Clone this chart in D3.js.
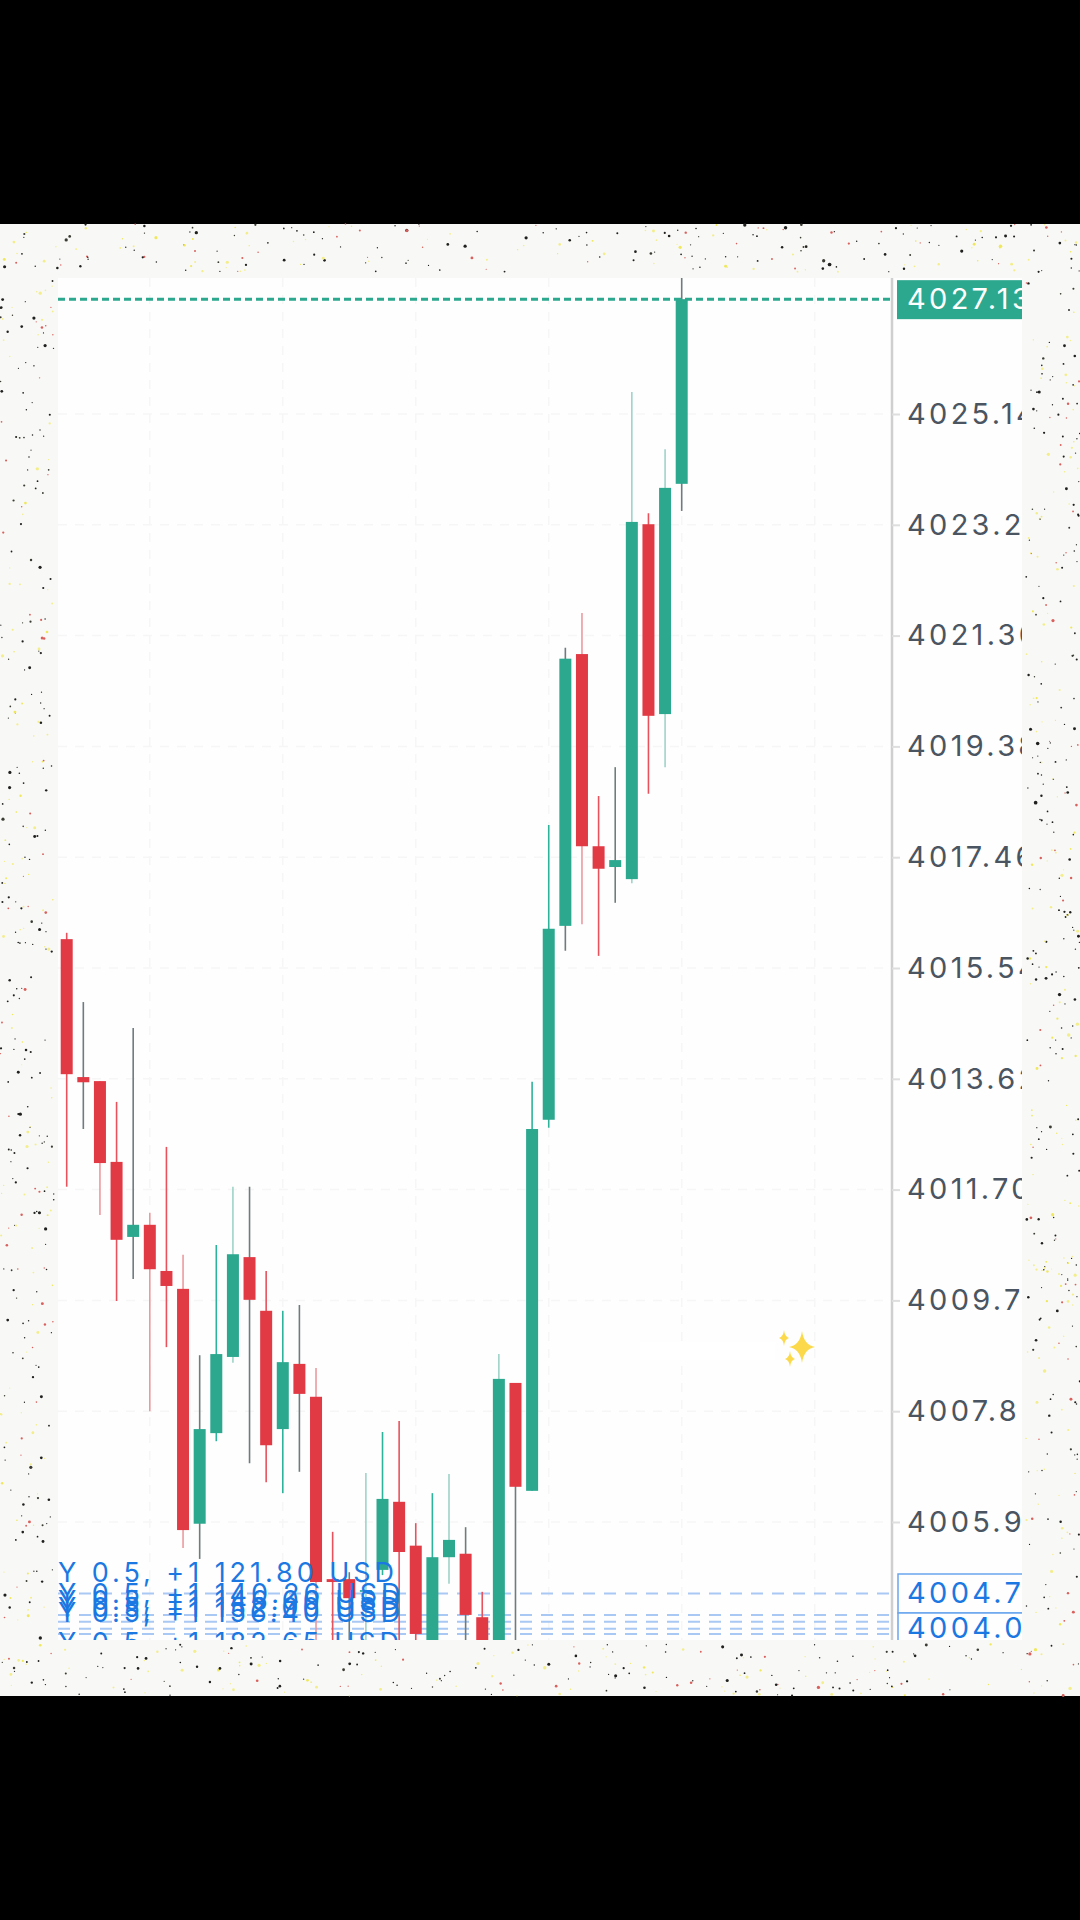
<!DOCTYPE html>
<html>
<head>
<meta charset="utf-8">
<script src="https://d3js.org/d3.v7.min.js"></script>
<style>
  html, body { margin: 0; padding: 0; background: #000; }
  svg { display: block; }
  .price { font-family: Inter, "Noto Sans", sans-serif; font-size: 29px; letter-spacing: 3.3px; }
  .order { font-family: Inter, "Noto Sans", sans-serif; font-size: 27px; letter-spacing: 3.95px; fill: #1b78e2; }
</style>
</head>
<body>
<div class="canvas"></div>
<script>
// candles, left to right
const open = [4016.04, 4013.65, 4013.58, 4012.18, 4010.88, 4011.09, 4010.29, 4009.98, 4005.91, 4007.48, 4008.80, 4010.53, 4009.60,
  4007.55, 4008.68, 4008.11, 4004.95, 4004.95, 4004.73, 4005.11, 4006.29, 4005.53, 4003.72, 4005.33, 4005.39, 4004.29, 4003.70,
  4008.35, 4006.48, 4012.91, 4016.27, 4020.98, 4017.65, 4017.29, 4017.08, 4023.23, 4019.94, 4023.93];
const close = [4013.70, 4013.56, 4012.16, 4010.83, 4011.09, 4010.32, 4010.03, 4005.80, 4007.55, 4008.85, 4010.58, 4009.79, 4007.27,
  4008.71, 4008.16, 4004.90, 4004.90, 4004.62, 4004.76, 4006.34, 4005.42, 4004.00, 4005.33, 4005.63, 4004.33, 4003.72, 4008.42,
  4006.55, 4012.75, 4016.22, 4020.90, 4017.65, 4017.26, 4017.41, 4023.27, 4019.91, 4023.86, 4027.13];
const high = [4016.15, 4014.95, 4013.58, 4013.22, 4014.50, 4011.30, 4012.44, 4010.57, 4008.83, 4010.74, 4011.75, 4011.75, 4010.29,
  4009.60, 4009.70, 4008.61, 4005.77, 4005.07, 4006.79, 4007.50, 4007.69, 4005.92, 4006.44, 4006.77, 4005.85, 4004.73, 4008.85,
  4008.35, 4013.57, 4018.02, 4021.09, 4021.69, 4018.52, 4019.02, 4025.52, 4023.42, 4024.53, 4027.50];
const low = [4011.75, 4012.75, 4011.26, 4009.77, 4010.15, 4007.86, 4008.97, 4005.49, 4005.30, 4007.34, 4008.70, 4006.96, 4006.63,
  4006.44, 4006.81, 4003.72, 4003.70, 4003.70, 4003.70, 4005.02, 4003.70, 4003.70, 4003.60, 4004.87, 4003.70, 4003.60, 4003.60,
  4003.70, 4006.48, 4012.77, 4015.84, 4016.30, 4015.75, 4016.67, 4017.01, 4018.56, 4019.02, 4023.46];
// the wicks came out in mixed tones in the video frame
const wickTone = ["r", "g", "l", "r", "g", "l", "r", "l", "g", "t", "m", "g", "r", "t", "g", "l", "r", "g", "m", "t", "r", "r", "t",
  "m", "g", "r", "m", "g", "t", "t", "g", "l", "r", "g", "m", "r", "m", "g"];

// price axis, labels as far as the frame lets them show
const tickValues = [4025.14, 4023.22, 4021.30, 4019.38, 4017.46, 4015.54, 4013.62, 4011.70, 4009.78, 4007.86, 4005.94];
const tickLabels = ["4025.14", "4023.22", "4021.30", "4019.38", "4017.46", "4015.54", "4013.62", "4011.70", "4009.7", "4007.8", "4005.9"];
const lastPrice = 4027.13;

// open orders
const orderPrices = [4004.70, 4004.33, 4004.21, 4004.09, 4004.00, 4003.48];
const orderTexts = ["Y 0.5, +1 121.80 USD", "Y 0.5, +1 140.26 USD", "Y 0.5, +1 146.00 USD", "Y 0.5, +1 152.00 USD", "Y 0.5, +1 156.40 USD", "Y 0.5, +1 182.65 USD"];
const orderBoxes = [4004.70, 4004.10];
const orderBoxLabels = ["4004.7", "4004.0"];

// vertical grid falls on every 8th candle
const gridCandles = [5, 13, 21, 29, 37, 45];

const dims = { width: 1080, height: 1920 };
const panel = { left: 58, right: 1022, top: 278, bottom: 1640 };
const stage = { top: 224, bottom: 1696 };
const axisX = 892;

const green = "#2ca88f";
const red = "#e13a45";
const blue = "#1b78e2";
const tones = { r: "#e8525c", l: "#eb9aa0", g: "#6f7b7c", t: "#2cb39a", m: "#9fd3c7" };

const x = d3.scaleLinear().domain([0, 37]).range([66.7, 681.7]);
const y = d3.scaleLinear().domain([4025.14, 4005.94]).range([414, 1522]);

const candles = open.map((o, i) => ({ i, o, c: close[i], h: high[i], l: low[i], tone: wickTone[i] }));

const svg = d3
  .select(".canvas")
  .append("svg")
  .attr("width", dims.width)
  .attr("height", dims.height);

svg.append("rect").attr("width", dims.width).attr("height", dims.height).attr("fill", "#000");

// speckled paper round the chart
svg
  .append("rect")
  .attr("y", stage.top)
  .attr("width", dims.width)
  .attr("height", stage.bottom - stage.top)
  .attr("fill", "#f8f8f6");

const rnd = d3.randomLcg(0.37);
const speckColors = ["#20201e", "#20201e", "#20201e", "#20201e", "#3b3a33", "#efe85c", "#f3ee8a", "#f3ee8a", "#d9605c"];
const specks = d3.range(7500).map(() => ({
  px: rnd() * dims.width,
  py: stage.top + rnd() * (stage.bottom - stage.top),
  r: 0.6 + rnd() * rnd() * 1.3,
  fill: speckColors[Math.floor(rnd() * speckColors.length)]
})).filter(d => d.px < panel.left - 4 || d.px > panel.right + 4 || d.py < panel.top - 6 || d.py > panel.bottom + 4);

svg
  .append("g")
  .selectAll("circle")
  .data(specks)
  .join("circle")
  .attr("cx", d => d.px)
  .attr("cy", d => d.py)
  .attr("r", d => d.r)
  .attr("fill", d => d.fill);

// white chart panel
svg
  .append("rect")
  .attr("x", panel.left)
  .attr("y", panel.top)
  .attr("width", panel.right - panel.left)
  .attr("height", panel.bottom - panel.top)
  .attr("fill", "#fefefe");

const defs = svg.append("defs");
defs
  .append("clipPath")
  .attr("id", "panel-clip")
  .append("rect")
  .attr("x", panel.left)
  .attr("y", panel.top)
  .attr("width", panel.right - panel.left)
  .attr("height", panel.bottom - panel.top);

const graph = svg.append("g").attr("clip-path", "url(#panel-clip)");

// grid
graph
  .append("g")
  .selectAll("line")
  .data(tickValues)
  .join("line")
  .attr("x1", panel.left)
  .attr("x2", axisX)
  .attr("y1", d => y(d))
  .attr("y2", d => y(d))
  .attr("stroke", "#f6f6f6")
  .attr("stroke-width", 1.5)
  .attr("stroke-dasharray", "9 8");

graph
  .append("g")
  .selectAll("line")
  .data(gridCandles)
  .join("line")
  .attr("x1", d => x(d))
  .attr("x2", d => x(d))
  .attr("y1", panel.top)
  .attr("y2", panel.bottom)
  .attr("stroke", "#f6f6f6")
  .attr("stroke-width", 1.5)
  .attr("stroke-dasharray", "9 8");

// faint white patch left beside the sparkle
graph.append("rect").attr("x", 640).attr("y", 1342).attr("width", 135).attr("height", 18).attr("fill", "#fff");

// order lines
graph
  .append("g")
  .selectAll("line")
  .data(orderPrices)
  .join("line")
  .attr("x1", panel.left)
  .attr("x2", axisX)
  .attr("y1", d => y(d))
  .attr("y2", d => y(d))
  .attr("stroke", "#a9c8f3")
  .attr("stroke-width", 2)
  .attr("stroke-dasharray", "12 9");

// last price line
graph
  .append("line")
  .attr("x1", panel.left)
  .attr("x2", axisX)
  .attr("y1", y(lastPrice))
  .attr("y2", y(lastPrice))
  .attr("stroke", green)
  .attr("stroke-width", 3)
  .attr("stroke-dasharray", "7 4");

// candles
const candle = graph.append("g").selectAll("g").data(candles).join("g");

candle
  .append("line")
  .attr("x1", d => x(d.i))
  .attr("x2", d => x(d.i))
  .attr("y1", d => y(d.h))
  .attr("y2", d => y(d.l))
  .attr("stroke", d => tones[d.tone])
  .attr("stroke-width", 1.6);

candle
  .append("rect")
  .attr("x", d => x(d.i) - 6)
  .attr("width", 12)
  .attr("y", d => y(Math.max(d.o, d.c)))
  .attr("height", d => Math.abs(y(d.o) - y(d.c)))
  .attr("fill", d => (d.c >= d.o ? green : red));

// order texts sit above their own line
graph
  .append("g")
  .selectAll("text")
  .data(orderTexts)
  .join("text")
  .attr("class", "order")
  .attr("x", panel.left)
  .attr("y", (d, i) => y(orderPrices[i]) - 12)
  .text(d => d);

// sparkle
const star = (cx, cy, rx, ry) => {
  const k = 0.14;
  return `M${cx},${cy - ry}Q${cx + rx * k},${cy - ry * k} ${cx + rx},${cy}Q${cx + rx * k},${cy + ry * k} ${cx},${cy + ry}` +
    `Q${cx - rx * k},${cy + ry * k} ${cx - rx},${cy}Q${cx - rx * k},${cy - ry * k} ${cx},${cy - ry}Z`;
};
const sparkle = graph.append("g").attr("fill", "#fbd94a");
sparkle.append("path").attr("d", star(802, 1347, 13, 16));
sparkle.append("path").attr("d", star(784, 1338, 5, 8));
sparkle.append("path").attr("d", star(790, 1359, 5, 8));

// price axis
const axis = d3.axisRight(y).tickValues(tickValues).tickSize(8).tickPadding(7).tickFormat((d, i) => tickLabels[i]);

const axisGroup = svg
  .append("g")
  .attr("clip-path", "url(#panel-clip)")
  .append("g")
  .attr("transform", `translate(${axisX}, 0)`)
  .call(axis);

axisGroup.select(".domain").attr("stroke", "none");
axisGroup.selectAll(".tick line").attr("stroke", "#dedede").attr("stroke-width", 2);
axisGroup
  .selectAll(".tick text")
  .attr("class", "price")
  .attr("fill", "#4a5561");

graph
  .append("line")
  .attr("x1", axisX)
  .attr("x2", axisX)
  .attr("y1", panel.top)
  .attr("y2", panel.bottom)
  .attr("stroke", "#cfcfcf")
  .attr("stroke-width", 2.5);

// last price badge
const badge = svg.append("g").attr("clip-path", "url(#panel-clip)");
badge
  .append("rect")
  .attr("x", 897)
  .attr("y", y(lastPrice) - 19)
  .attr("width", panel.right - 897)
  .attr("height", 39)
  .attr("fill", green);
badge
  .append("text")
  .attr("class", "price")
  .attr("x", 907)
  .attr("y", y(lastPrice))
  .attr("dy", "0.34em")
  .attr("fill", "#fff")
  .text(lastPrice.toFixed(2));

// order price boxes
const box = svg.append("g").attr("clip-path", "url(#panel-clip)").selectAll("g").data(orderBoxes).join("g");
box
  .append("rect")
  .attr("x", 898)
  .attr("y", (d, i) => 1574 + i * 39)
  .attr("width", 140)
  .attr("height", 39)
  .attr("fill", "#fefefe")
  .attr("stroke", "#6aa5ee")
  .attr("stroke-width", 1.5);
box
  .append("text")
  .attr("class", "price")
  .attr("x", 907)
  .attr("y", d => y(d))
  .attr("dy", "0.34em")
  .attr("fill", blue)
  .text((d, i) => orderBoxLabels[i]);
</script>
</body>
</html>
